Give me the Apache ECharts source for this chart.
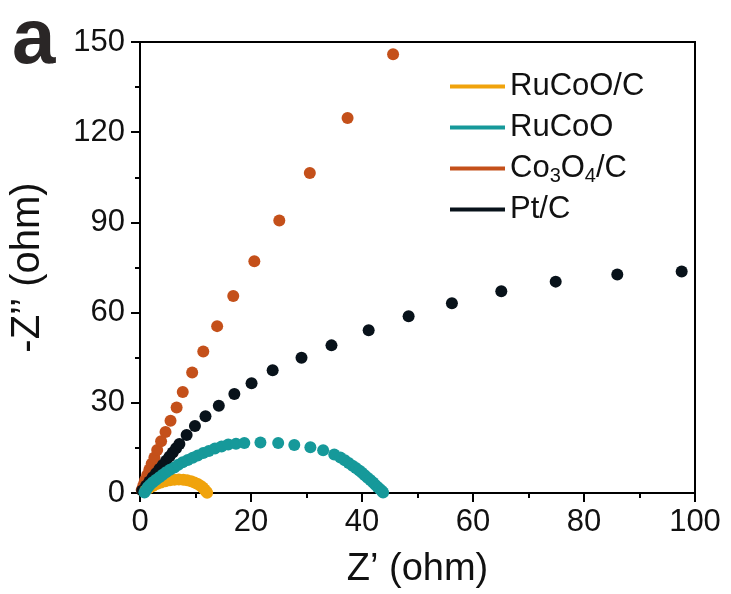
<!DOCTYPE html>
<html>
<head>
<meta charset="utf-8">
<script src="https://cdn.jsdelivr.net/npm/echarts@6/dist/echarts.min.js"></script>
<style>html,body{margin:0;padding:0;background:#fff;}#c{width:731px;height:594px;}</style>
</head>
<body>
<div id="c"></div>
<script>
const seriesNames = ['RuCoO/C', 'RuCoO', 'Co3O4/C', 'Pt/C'];
const xTicks = [0, 20, 40, 60, 80, 100];
const yTicks = [0, 30, 60, 90, 120, 150];

const ruCoOC = [[1.0,0.8],[1.6,1.6],[2.3,2.3],[3.0,3.0],[3.8,3.5],[4.6,3.9],[5.4,4.2],[6.2,4.4],[7.0,4.5],[7.8,4.4],[8.5,4.2],[9.2,3.9],[9.8,3.5],[10.4,3.0],[10.9,2.4],[11.3,1.8],[11.6,1.2],[11.9,0.6],[12.1,0.1]];
const ruCoO = [[0.8,0.2],[1.1,1.0],[1.4,1.9],[1.8,2.7],[2.3,3.6],[2.9,4.4],[3.5,5.2],[4.1,6.1],[4.7,6.9],[5.4,7.7],[6.2,8.5],[6.9,9.4],[7.7,10.2],[8.6,11.0],[9.5,11.7],[10.4,12.5],[11.4,13.3],[12.4,14.0],[13.5,14.8],[14.7,15.5],[15.9,16.1],[17.3,16.4],[18.8,16.6],[21.7,16.8],[24.9,16.6],[27.8,16.0],[30.7,15.2],[33.0,14.2],[35.0,12.8],[36.1,11.8],[36.9,10.9],[37.6,10.0],[38.3,9.1],[38.9,8.3],[39.5,7.5],[40.0,6.7],[40.5,5.9],[41.0,5.1],[41.5,4.3],[42.0,3.5],[42.4,2.7],[42.8,2.0],[43.2,1.3],[43.6,0.7],[43.8,0.2]];
const co3o4C = [[0.3,1.0],[0.6,2.5],[0.9,4.2],[1.3,6.0],[1.7,7.8],[2.1,9.7],[2.6,11.8],[3.1,14.3],[3.8,17.2],[4.6,20.3],[5.5,24.0],[6.6,28.4],[7.7,33.6],[9.4,40.1],[11.4,47.1],[13.9,55.5],[16.8,65.5],[20.6,77.1],[25.1,90.6],[30.6,106.4],[37.4,124.7],[45.6,145.9]];
const ptC = [[0.4,0.8],[1.1,2.4],[1.7,3.8],[2.3,5.2],[2.9,6.6],[3.5,8.0],[4.1,9.3],[4.7,10.7],[5.3,12.1],[5.9,13.5],[6.5,14.9],[7.1,16.3],[8.4,19.3],[9.9,22.3],[11.8,25.5],[14.2,29.0],[17.0,32.9],[20.1,36.5],[23.9,40.8],[29.1,45.0],[34.5,49.1],[41.2,54.1],[48.4,58.8],[56.2,63.1],[65.1,67.1],[74.9,70.3],[86.0,72.7],[97.6,73.7]];

const colors = {'RuCoO/C':'#F0A30C','RuCoO':'#16999A','Co3O4/C':'#C4501A','Pt/C':'#08121A'};
const FONT = "'Liberation Sans', Arial, sans-serif";

const chart = echarts.init(document.getElementById('c'), null, {renderer:'canvas'});

function sc(name, data) {
  return {
    name: name, type: 'scatter', data: data, symbolSize: 12,
    itemStyle: {color: colors[name], opacity: 1}
  };
}

chart.setOption({
  animation: false,
  backgroundColor: '#fff',
  grid: {left: 137, right: 36, top: 42, bottom: 100, show: true, borderColor: '#000', borderWidth: 2, backgroundColor: 'transparent'},
  graphic: [{
    type: 'text', left: 12, top: 2,
    style: {text: 'a', font: "bold 78px " + FONT, fill: '#2a2626'}
  }],
  legend: {
    orient: 'vertical', left: 445, top: 64,
    icon: 'rect', itemWidth: 55, itemHeight: 4, itemGap: 6,
    data: seriesNames,
    textStyle: {
      fontFamily: FONT, fontSize: 31, color: '#111', lineHeight: 35, padding: [0,0,0,0],
      rich: {
        n: {fontFamily: FONT, fontSize: 31, color: '#111', lineHeight: 35},
        s: {fontFamily: FONT, fontSize: 20, color: '#111', lineHeight: 35, verticalAlign: 'bottom', padding: [12,0,0,0]}
      }
    },
    formatter: function (name) {
      if (name === 'Co3O4/C') return '{n|Co}{s|3}{n|O}{s|4}{n|/C}';
      return name;
    }
  },
  xAxis: {
    type: 'value', min: xTicks[0], max: xTicks[xTicks.length-1], interval: 20,
    name: 'Z’ (ohm)', nameLocation: 'middle', nameGap: 58,
    nameTextStyle: {fontFamily: FONT, fontSize: 38, color: '#111'},
    axisLine: {show: true, onZero: false, lineStyle: {color: '#000', width: 2}},
    axisTick: {show: true, inside: false, length: 9, lineStyle: {color: '#000', width: 2}},
    minorTick: {show: true, splitNumber: 2, length: 5, lineStyle: {color: '#000', width: 2}},
    splitLine: {show: false},
    axisLabel: {fontFamily: FONT, fontSize: 31, color: '#111', margin: 14}
  },
  yAxis: {
    type: 'value', min: yTicks[0], max: yTicks[yTicks.length-1], interval: 30,
    name: '-Z’’ (ohm)', nameLocation: 'middle', nameGap: 92,
    nameTextStyle: {fontFamily: FONT, fontSize: 40, color: '#111'},
    axisLine: {show: true, onZero: false, lineStyle: {color: '#000', width: 2}},
    axisTick: {show: true, inside: false, length: 9, lineStyle: {color: '#000', width: 2}},
    minorTick: {show: true, splitNumber: 2, length: 5, lineStyle: {color: '#000', width: 2}},
    splitLine: {show: false},
    axisLabel: {fontFamily: FONT, fontSize: 31, color: '#111', margin: 15}
  },
  series: [
    sc('Co3O4/C', co3o4C),
    sc('Pt/C', ptC),
    sc('RuCoO/C', ruCoOC),
    sc('RuCoO', ruCoO)
  ]
});
</script>
</body>
</html>
